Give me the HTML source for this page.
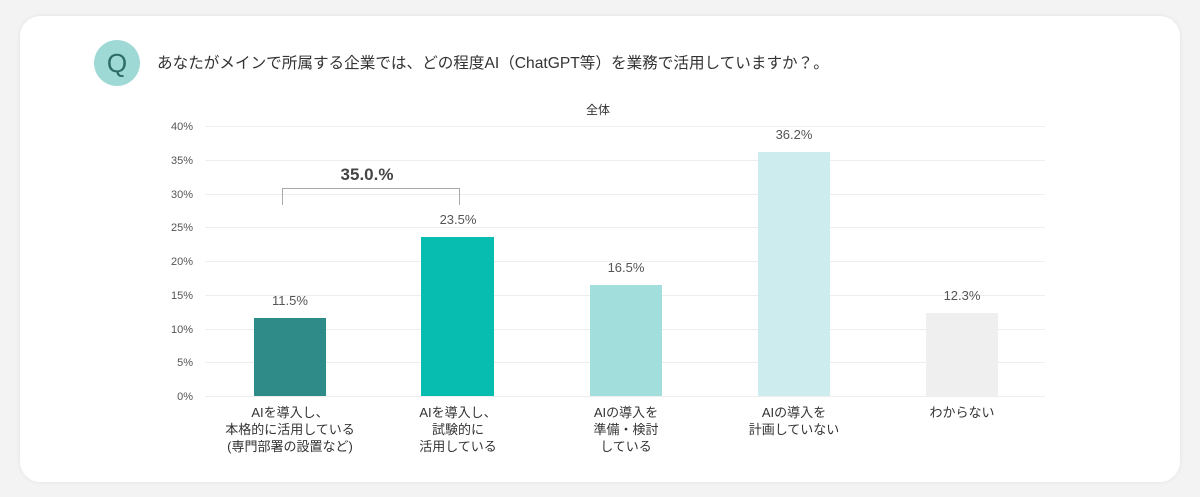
<!DOCTYPE html>
<html><head><meta charset="utf-8"><style>
body{margin:0;width:1200px;height:497px;background:#f3f3f3;font-family:"Liberation Sans","Noto Sans CJK JP",sans-serif;overflow:hidden}
.card{position:absolute;left:20px;top:16px;width:1160px;height:466px;background:#fff;border-radius:20px;box-shadow:0 0 4px rgba(0,0,0,0.08)}
</style></head><body>
<div class="card"></div>
<svg width="1200" height="497" style="position:absolute;left:0;top:0" font-family="Liberation Sans, Noto Sans CJK JP, sans-serif">
<circle cx="117" cy="63" r="23" fill="#9fd9d6"/>
<text x="117" y="72" font-size="26" fill="#2b6b68" text-anchor="middle">Q</text>
<text x="157" y="68" font-size="15.6" fill="#333">あなたがメインで所属する企業では、どの程度AI（ChatGPT等）を業務で活用していますか？。</text>
<text x="598" y="114" font-size="12" fill="#333" text-anchor="middle">全体</text>
<g stroke="#eeeeee" stroke-width="1">
<line x1="205" x2="1045" y1="126.5" y2="126.5"/><line x1="205" x2="1045" y1="160.5" y2="160.5"/>
<line x1="205" x2="1045" y1="194.5" y2="194.5"/><line x1="205" x2="1045" y1="227.5" y2="227.5"/>
<line x1="205" x2="1045" y1="261.5" y2="261.5"/><line x1="205" x2="1045" y1="295.5" y2="295.5"/>
<line x1="205" x2="1045" y1="329.5" y2="329.5"/><line x1="205" x2="1045" y1="362.5" y2="362.5"/>
<line x1="205" x2="1045" y1="396.5" y2="396.5"/>
</g>
<g font-size="11" fill="#555" text-anchor="end">
<text x="193" y="130">40%</text><text x="193" y="164">35%</text><text x="193" y="198">30%</text>
<text x="193" y="231">25%</text><text x="193" y="265">20%</text><text x="193" y="299">15%</text>
<text x="193" y="333">10%</text><text x="193" y="366">5%</text><text x="193" y="400">0%</text>
</g>
<rect x="254" y="318" width="72" height="78" fill="#2e8b87"/>
<rect x="421" y="237" width="73" height="159" fill="#06bdb0"/>
<rect x="590" y="285" width="72" height="111" fill="#a2dfdc"/>
<rect x="758" y="152" width="72" height="244" fill="#cdeced"/>
<rect x="926" y="313" width="72" height="83" fill="#efefef"/>
<g font-size="13" fill="#555" text-anchor="middle">
<text x="290" y="305">11.5%</text><text x="458" y="224">23.5%</text><text x="626" y="272">16.5%</text>
<text x="794" y="139">36.2%</text><text x="962" y="300">12.3%</text>
</g>
<path d="M282.5 205 V188.5 H459.5 V205" fill="none" stroke="#aaa" stroke-width="1"/>
<text x="367" y="180" font-size="17" font-weight="bold" fill="#444" text-anchor="middle">35.0.%</text>
<g font-size="13" fill="#333" text-anchor="middle">
<text x="290" y="417">AIを導入し、</text><text x="290" y="434">本格的に活用している</text><text x="290" y="451">(専門部署の設置など)</text>
<text x="458" y="417">AIを導入し、</text><text x="458" y="434">試験的に</text><text x="458" y="451">活用している</text>
<text x="626" y="417">AIの導入を</text><text x="626" y="434">準備・検討</text><text x="626" y="451">している</text>
<text x="794" y="417">AIの導入を</text><text x="794" y="434">計画していない</text>
<text x="962" y="417">わからない</text>
</g>
</svg>
</body></html>
